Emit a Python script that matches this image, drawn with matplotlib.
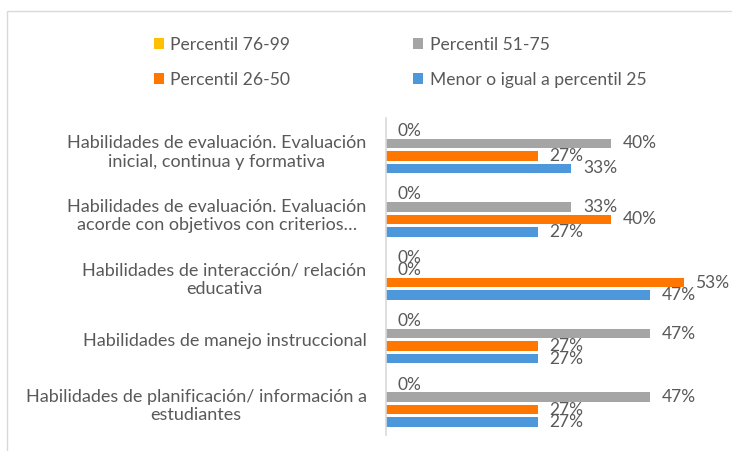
import matplotlib.pyplot as plt
import numpy as np
from matplotlib.patches import Rectangle

categories = [
    "Habilidades de evaluación. Evaluación\ninicial, continua y formativa",
    "Habilidades de evaluación. Evaluación\nacorde con objetivos con criterios…",
    "Habilidades de interacción/ relación\neducativa",
    "Habilidades de manejo instruccional",
    "Habilidades de planificación/ información a\nestudiantes",
]
series_names = [
    "Percentil 76-99",
    "Percentil 51-75",
    "Percentil 26-50",
    "Menor o igual a percentil 25",
]
p76_99 = [0, 0, 0, 0, 0]
p51_75 = [40, 33, 0, 47, 47]
p26_50 = [27, 40, 53, 27, 27]
p0_25 = [33, 27, 47, 27, 27]

colors = ["#FFC000", "#A5A5A5", "#FF7700", "#4C98DA"]
text_color = "#595959"

plt.rcParams["font.family"] = ["Lato", "DejaVu Sans"]

fig = plt.figure(figsize=(7.32, 4.51), dpi=100)
fig.patch.set_facecolor("white")
ax = fig.add_axes([386 / 732, 1 - 435 / 451, (723 - 386) / 732, (435 - 118) / 451])

# chart frame (only top and left edges visible in the crop)
fig.patches.append(Rectangle((7 / 732, -0.1), 1.2, 1 - 11 / 451 + 0.1,
                             transform=fig.transFigure, fill=False,
                             edgecolor="#D9D9D9", linewidth=1.0))

y = np.arange(len(categories))
slot = 0.197
bar_h = 0.15
handles = []
for i, (vals, name, col) in enumerate(zip([p76_99, p51_75, p26_50, p0_25], series_names, colors)):
    bars = ax.barh(y + (i - 1.5) * slot, vals, height=bar_h, color=col, label=name)
    ax.bar_label(bars, labels=[f"{v}%" for v in vals], padding=8.5,
                 fontsize=12.5, color=text_color)
    handles.append(bars)

ax.set_xlim(0, 60)
ax.set_ylim(len(categories) - 0.5, -0.5)
ax.set_yticks(y)
ax.set_yticklabels(categories, fontsize=13, color=text_color, multialignment="center")
ax.tick_params(axis="y", length=0, pad=14)
ax.set_xticks([])
for s in ["top", "right", "bottom"]:
    ax.spines[s].set_visible(False)
ax.spines["left"].set_color("#D9D9D9")
ax.spines["left"].set_linewidth(1.2)

# legend is filled column by column, so reorder to read row by row
order = [0, 2, 1, 3]
leg = fig.legend(handles=[handles[k] for k in order],
                 labels=[series_names[k] for k in order], ncol=2,
                 loc="upper left", bbox_to_anchor=(138 / 732, 1 - 21 / 451),
                 frameon=False, fontsize=12.6, handlelength=0.6, handleheight=0.6,
                 handletextpad=0.35, columnspacing=7.0, labelspacing=1.1)
for t in leg.get_texts():
    t.set_color(text_color)

fig.savefig("out.png", dpi=100, facecolor="white")
